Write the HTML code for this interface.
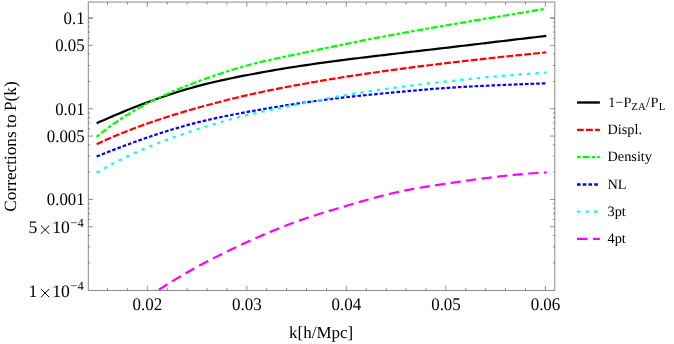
<!DOCTYPE html>
<html><head><meta charset="utf-8"><title>plot</title>
<style>html,body{margin:0;padding:0;background:#fff;}body{width:674px;height:344px;overflow:hidden;font-family:"Liberation Serif",serif;}svg{display:block}</style>
</head><body>
<svg width="674" height="344" viewBox="0 0 674 344">
<rect width="674" height="344" fill="#fff"/>
<defs><filter id="bl" x="-5%" y="-5%" width="110%" height="110%" color-interpolation-filters="sRGB"><feGaussianBlur stdDeviation="0.35"/></filter><clipPath id="c"><rect x="88.3" y="2.05" width="466.49999999999994" height="288.4"/></clipPath></defs>
<g fill="none" stroke-width="2.2" clip-path="url(#c)">
<path d="M96.60,123.27 L100.38,121.58 L104.16,119.91 L107.94,118.26 L111.72,116.63 L115.49,115.02 L119.27,113.43 L123.05,111.87 L126.83,110.32 L130.61,108.80 L134.39,107.29 L138.17,105.82 L141.95,104.36 L145.73,102.94 L149.51,101.53 L153.28,100.16 L157.06,98.81 L160.84,97.48 L164.62,96.19 L168.40,94.92 L172.18,93.68 L175.96,92.47 L179.74,91.29 L183.52,90.15 L187.30,89.03 L191.07,87.94 L194.85,86.89 L198.63,85.87 L202.41,84.88 L206.19,83.93 L209.97,83.00 L213.75,82.10 L217.53,81.23 L221.31,80.38 L225.09,79.56 L228.86,78.75 L232.64,77.96 L236.42,77.20 L240.20,76.44 L243.98,75.70 L247.76,74.97 L251.54,74.26 L255.32,73.55 L259.10,72.85 L262.88,72.17 L266.65,71.49 L270.43,70.83 L274.21,70.18 L277.99,69.54 L281.77,68.90 L285.55,68.28 L289.33,67.67 L293.11,67.07 L296.89,66.49 L300.67,65.91 L304.44,65.34 L308.22,64.79 L312.00,64.24 L315.78,63.70 L319.56,63.17 L323.34,62.65 L327.12,62.13 L330.90,61.63 L334.68,61.13 L338.46,60.63 L342.23,60.14 L346.01,59.66 L349.79,59.18 L353.57,58.71 L357.35,58.24 L361.13,57.78 L364.91,57.32 L368.69,56.86 L372.47,56.40 L376.25,55.95 L380.02,55.50 L383.80,55.06 L387.58,54.61 L391.36,54.17 L395.14,53.72 L398.92,53.28 L402.70,52.84 L406.48,52.40 L410.26,51.96 L414.04,51.52 L417.81,51.08 L421.59,50.64 L425.37,50.20 L429.15,49.76 L432.93,49.32 L436.71,48.88 L440.49,48.43 L444.27,47.99 L448.05,47.55 L451.83,47.10 L455.60,46.66 L459.38,46.21 L463.16,45.76 L466.94,45.31 L470.72,44.87 L474.50,44.42 L478.28,43.97 L482.06,43.52 L485.84,43.06 L489.62,42.61 L493.39,42.16 L497.17,41.71 L500.95,41.26 L504.73,40.81 L508.51,40.36 L512.29,39.91 L516.07,39.46 L519.85,39.01 L523.63,38.56 L527.41,38.11 L531.18,37.67 L534.96,37.22 L538.74,36.77 L542.52,36.33 L546.30,35.88" stroke="#000000"/>
<path d="M96.60,144.18 L100.38,142.42 L104.16,140.70 L107.94,139.02 L111.72,137.38 L115.49,135.77 L119.27,134.20 L123.05,132.66 L126.83,131.15 L130.61,129.68 L134.39,128.24 L138.17,126.83 L141.95,125.45 L145.73,124.10 L149.51,122.77 L153.28,121.47 L157.06,120.20 L160.84,118.95 L164.62,117.72 L168.40,116.51 L172.18,115.33 L175.96,114.17 L179.74,113.02 L183.52,111.90 L187.30,110.79 L191.07,109.70 L194.85,108.62 L198.63,107.55 L202.41,106.50 L206.19,105.47 L209.97,104.44 L213.75,103.44 L217.53,102.44 L221.31,101.46 L225.09,100.50 L228.86,99.55 L232.64,98.62 L236.42,97.70 L240.20,96.80 L243.98,95.92 L247.76,95.05 L251.54,94.20 L255.32,93.37 L259.10,92.55 L262.88,91.74 L266.65,90.95 L270.43,90.18 L274.21,89.42 L277.99,88.67 L281.77,87.93 L285.55,87.20 L289.33,86.49 L293.11,85.78 L296.89,85.08 L300.67,84.40 L304.44,83.72 L308.22,83.05 L312.00,82.38 L315.78,81.73 L319.56,81.08 L323.34,80.45 L327.12,79.82 L330.90,79.19 L334.68,78.58 L338.46,77.97 L342.23,77.37 L346.01,76.78 L349.79,76.19 L353.57,75.61 L357.35,75.04 L361.13,74.47 L364.91,73.91 L368.69,73.36 L372.47,72.81 L376.25,72.27 L380.02,71.73 L383.80,71.20 L387.58,70.68 L391.36,70.16 L395.14,69.64 L398.92,69.13 L402.70,68.63 L406.48,68.13 L410.26,67.64 L414.04,67.15 L417.81,66.66 L421.59,66.18 L425.37,65.71 L429.15,65.24 L432.93,64.77 L436.71,64.31 L440.49,63.85 L444.27,63.39 L448.05,62.95 L451.83,62.50 L455.60,62.06 L459.38,61.62 L463.16,61.19 L466.94,60.75 L470.72,60.33 L474.50,59.90 L478.28,59.48 L482.06,59.07 L485.84,58.65 L489.62,58.24 L493.39,57.84 L497.17,57.43 L500.95,57.03 L504.73,56.63 L508.51,56.24 L512.29,55.84 L516.07,55.45 L519.85,55.06 L523.63,54.68 L527.41,54.29 L531.18,53.91 L534.96,53.53 L538.74,53.15 L542.52,52.78 L546.30,52.40" stroke="#ff0000" stroke-dasharray="6.8 2.155"/>
<path d="M96.60,136.79 L100.36,133.75 L104.13,130.80 L107.89,127.96 L111.66,125.22 L115.42,122.56 L119.19,120.00 L122.95,117.53 L126.72,115.14 L130.48,112.83 L134.25,110.59 L138.01,108.44 L141.78,106.35 L145.54,104.33 L149.31,102.37 L153.07,100.48 L156.84,98.65 L160.60,96.87 L164.36,95.14 L168.13,93.46 L171.89,91.82 L175.66,90.23 L179.42,88.68 L183.19,87.16 L186.95,85.68 L190.72,84.22 L194.48,82.79 L198.25,81.39 L202.01,80.00 L205.78,78.64 L209.54,77.30 L213.31,75.98 L217.07,74.69 L220.84,73.43 L224.60,72.20 L228.36,71.00 L232.13,69.82 L235.89,68.68 L239.66,67.58 L243.42,66.51 L247.19,65.48 L250.95,64.48 L254.72,63.52 L258.48,62.59 L262.25,61.69 L266.01,60.81 L269.78,59.96 L273.54,59.12 L277.31,58.30 L281.07,57.50 L284.84,56.70 L288.60,55.91 L292.36,55.13 L296.13,54.34 L299.89,53.55 L303.66,52.76 L307.42,51.97 L311.19,51.17 L314.95,50.38 L318.72,49.58 L322.48,48.79 L326.25,48.00 L330.01,47.21 L333.78,46.42 L337.54,45.64 L341.31,44.86 L345.07,44.09 L348.84,43.33 L352.60,42.57 L356.36,41.81 L360.13,41.07 L363.89,40.33 L367.66,39.59 L371.42,38.87 L375.19,38.14 L378.95,37.42 L382.72,36.71 L386.48,36.00 L390.25,35.30 L394.01,34.60 L397.78,33.91 L401.54,33.22 L405.31,32.54 L409.07,31.86 L412.84,31.18 L416.60,30.51 L420.36,29.84 L424.13,29.17 L427.89,28.51 L431.66,27.86 L435.42,27.20 L439.19,26.55 L442.95,25.90 L446.72,25.26 L450.48,24.62 L454.25,23.98 L458.01,23.35 L461.78,22.71 L465.54,22.08 L469.31,21.46 L473.07,20.83 L476.84,20.20 L480.60,19.58 L484.36,18.96 L488.13,18.33 L491.89,17.71 L495.66,17.09 L499.42,16.47 L503.19,15.85 L506.95,15.22 L510.72,14.60 L514.48,13.98 L518.25,13.35 L522.01,12.72 L525.78,12.10 L529.54,11.47 L533.31,10.83 L537.07,10.20 L540.84,9.56 L544.60,8.92" stroke="#00ff00" stroke-dasharray="3.6 2.15 6.7 2.12"/>
<path d="M96.60,156.54 L100.38,155.03 L104.16,153.53 L107.94,152.05 L111.72,150.58 L115.49,149.12 L119.27,147.68 L123.05,146.26 L126.83,144.85 L130.61,143.46 L134.39,142.08 L138.17,140.73 L141.95,139.39 L145.73,138.08 L149.51,136.78 L153.28,135.51 L157.06,134.26 L160.84,133.04 L164.62,131.83 L168.40,130.65 L172.18,129.50 L175.96,128.37 L179.74,127.27 L183.52,126.20 L187.30,125.15 L191.07,124.14 L194.85,123.15 L198.63,122.19 L202.41,121.26 L206.19,120.37 L209.97,119.49 L213.75,118.65 L217.53,117.82 L221.31,117.02 L225.09,116.24 L228.86,115.48 L232.64,114.73 L236.42,114.00 L240.20,113.28 L243.98,112.58 L247.76,111.88 L251.54,111.19 L255.32,110.51 L259.10,109.84 L262.88,109.18 L266.65,108.53 L270.43,107.89 L274.21,107.26 L277.99,106.64 L281.77,106.03 L285.55,105.43 L289.33,104.84 L293.11,104.26 L296.89,103.69 L300.67,103.13 L304.44,102.58 L308.22,102.04 L312.00,101.52 L315.78,101.00 L319.56,100.50 L323.34,100.00 L327.12,99.52 L330.90,99.05 L334.68,98.58 L338.46,98.13 L342.23,97.69 L346.01,97.26 L349.79,96.83 L353.57,96.42 L357.35,96.01 L361.13,95.62 L364.91,95.23 L368.69,94.84 L372.47,94.47 L376.25,94.09 L380.02,93.73 L383.80,93.37 L387.58,93.01 L391.36,92.65 L395.14,92.30 L398.92,91.95 L402.70,91.60 L406.48,91.25 L410.26,90.91 L414.04,90.57 L417.81,90.24 L421.59,89.91 L425.37,89.59 L429.15,89.28 L432.93,88.97 L436.71,88.68 L440.49,88.39 L444.27,88.12 L448.05,87.85 L451.83,87.60 L455.60,87.36 L459.38,87.12 L463.16,86.90 L466.94,86.69 L470.72,86.48 L474.50,86.28 L478.28,86.09 L482.06,85.91 L485.84,85.73 L489.62,85.56 L493.39,85.40 L497.17,85.23 L500.95,85.07 L504.73,84.92 L508.51,84.77 L512.29,84.62 L516.07,84.47 L519.85,84.32 L523.63,84.17 L527.41,84.02 L531.18,83.87 L534.96,83.72 L538.74,83.57 L542.52,83.42 L546.30,83.26" stroke="#0000ff" stroke-dasharray="3.6 2.0"/>
<path d="M96.60,172.76 L100.38,170.54 L104.16,168.39 L107.94,166.29 L111.72,164.25 L115.49,162.26 L119.27,160.33 L123.05,158.44 L126.83,156.61 L130.61,154.83 L134.39,153.09 L138.17,151.39 L141.95,149.74 L145.73,148.13 L149.51,146.55 L153.28,145.02 L157.06,143.52 L160.84,142.05 L164.62,140.62 L168.40,139.22 L172.18,137.85 L175.96,136.50 L179.74,135.18 L183.52,133.88 L187.30,132.61 L191.07,131.36 L194.85,130.12 L198.63,128.90 L202.41,127.70 L206.19,126.52 L209.97,125.36 L213.75,124.21 L217.53,123.08 L221.31,121.98 L225.09,120.90 L228.86,119.84 L232.64,118.81 L236.42,117.80 L240.20,116.82 L243.98,115.87 L247.76,114.94 L251.54,114.04 L255.32,113.17 L259.10,112.33 L262.88,111.50 L266.65,110.70 L270.43,109.90 L274.21,109.13 L277.99,108.36 L281.77,107.60 L285.55,106.84 L289.33,106.09 L293.11,105.34 L296.89,104.58 L300.67,103.82 L304.44,103.06 L308.22,102.29 L312.00,101.53 L315.78,100.77 L319.56,100.01 L323.34,99.26 L327.12,98.51 L330.90,97.78 L334.68,97.06 L338.46,96.35 L342.23,95.66 L346.01,94.99 L349.79,94.33 L353.57,93.69 L357.35,93.08 L361.13,92.47 L364.91,91.89 L368.69,91.32 L372.47,90.76 L376.25,90.21 L380.02,89.68 L383.80,89.16 L387.58,88.64 L391.36,88.14 L395.14,87.64 L398.92,87.15 L402.70,86.66 L406.48,86.18 L410.26,85.70 L414.04,85.23 L417.81,84.77 L421.59,84.31 L425.37,83.86 L429.15,83.41 L432.93,82.97 L436.71,82.54 L440.49,82.11 L444.27,81.68 L448.05,81.26 L451.83,80.85 L455.60,80.44 L459.38,80.04 L463.16,79.65 L466.94,79.26 L470.72,78.87 L474.50,78.50 L478.28,78.12 L482.06,77.76 L485.84,77.40 L489.62,77.05 L493.39,76.70 L497.17,76.36 L500.95,76.02 L504.73,75.70 L508.51,75.38 L512.29,75.06 L516.07,74.75 L519.85,74.45 L523.63,74.16 L527.41,73.87 L531.18,73.59 L534.96,73.31 L538.74,73.05 L542.52,72.79 L546.30,72.53" stroke="#00ffff" stroke-dasharray="3.3 5.095"/>
<path d="M150.00,295.50 L153.33,293.31 L156.67,291.13 L160.00,288.98 L163.33,286.86 L166.67,284.76 L170.00,282.68 L173.34,280.64 L176.67,278.61 L180.00,276.62 L183.34,274.66 L186.67,272.72 L190.00,270.82 L193.34,268.94 L196.67,267.10 L200.00,265.29 L203.34,263.51 L206.67,261.75 L210.01,260.03 L213.34,258.33 L216.67,256.64 L220.01,254.98 L223.34,253.34 L226.67,251.72 L230.01,250.11 L233.34,248.51 L236.67,246.93 L240.01,245.37 L243.34,243.83 L246.67,242.29 L250.01,240.78 L253.34,239.28 L256.68,237.79 L260.01,236.33 L263.34,234.88 L266.68,233.45 L270.01,232.03 L273.34,230.64 L276.68,229.27 L280.01,227.92 L283.34,226.59 L286.68,225.29 L290.01,224.01 L293.35,222.76 L296.68,221.54 L300.01,220.35 L303.35,219.19 L306.68,218.06 L310.01,216.94 L313.35,215.86 L316.68,214.79 L320.01,213.74 L323.35,212.70 L326.68,211.68 L330.02,210.67 L333.35,209.68 L336.68,208.69 L340.02,207.70 L343.35,206.72 L346.68,205.75 L350.02,204.77 L353.35,203.80 L356.68,202.83 L360.02,201.86 L363.35,200.91 L366.68,199.96 L370.02,199.03 L373.35,198.12 L376.69,197.22 L380.02,196.34 L383.35,195.48 L386.69,194.64 L390.02,193.83 L393.35,193.05 L396.69,192.29 L400.02,191.57 L403.35,190.87 L406.69,190.20 L410.02,189.56 L413.36,188.94 L416.69,188.34 L420.02,187.76 L423.36,187.20 L426.69,186.65 L430.02,186.12 L433.36,185.59 L436.69,185.08 L440.02,184.58 L443.36,184.08 L446.69,183.58 L450.03,183.09 L453.36,182.60 L456.69,182.11 L460.03,181.63 L463.36,181.16 L466.69,180.68 L470.03,180.22 L473.36,179.76 L476.69,179.31 L480.03,178.86 L483.36,178.42 L486.69,178.00 L490.03,177.58 L493.36,177.17 L496.70,176.77 L500.03,176.38 L503.36,176.01 L506.70,175.64 L510.03,175.29 L513.36,174.95 L516.70,174.63 L520.03,174.32 L523.36,174.03 L526.70,173.75 L530.03,173.48 L533.37,173.24 L536.70,173.01 L540.03,172.80 L543.37,172.60 L546.70,172.43" stroke="#ff00ff" stroke-dasharray="10.2 5.45" stroke-dashoffset="5.1"/>
</g>
<g stroke="#8a8a8a" stroke-width="1" fill="none" shape-rendering="auto">
<rect x="88.3" y="2.05" width="466.49999999999994" height="288.4"/>
<path d="M107.49,290.45 v-2.6 M107.49,2.05 v2.6 M127.40,290.45 v-2.6 M127.40,2.05 v2.6 M147.30,290.45 v-4.6 M147.30,2.05 v4.6 M167.20,290.45 v-2.6 M167.20,2.05 v2.6 M187.11,290.45 v-2.6 M187.11,2.05 v2.6 M207.01,290.45 v-2.6 M207.01,2.05 v2.6 M226.92,290.45 v-2.6 M226.92,2.05 v2.6 M246.82,290.45 v-4.6 M246.82,2.05 v4.6 M266.72,290.45 v-2.6 M266.72,2.05 v2.6 M286.63,290.45 v-2.6 M286.63,2.05 v2.6 M306.53,290.45 v-2.6 M306.53,2.05 v2.6 M326.44,290.45 v-2.6 M326.44,2.05 v2.6 M346.34,290.45 v-4.6 M346.34,2.05 v4.6 M366.24,290.45 v-2.6 M366.24,2.05 v2.6 M386.15,290.45 v-2.6 M386.15,2.05 v2.6 M406.05,290.45 v-2.6 M406.05,2.05 v2.6 M425.96,290.45 v-2.6 M425.96,2.05 v2.6 M445.86,290.45 v-4.6 M445.86,2.05 v4.6 M465.76,290.45 v-2.6 M465.76,2.05 v2.6 M485.67,290.45 v-2.6 M485.67,2.05 v2.6 M505.57,290.45 v-2.6 M505.57,2.05 v2.6 M525.48,290.45 v-2.6 M525.48,2.05 v2.6 M545.38,290.45 v-4.6 M545.38,2.05 v4.6 M88.3,262.85 h1.8 M554.8,262.85 h-1.8 M88.3,246.88 h1.8 M554.8,246.88 h-1.8 M88.3,235.54 h1.8 M554.8,235.54 h-1.8 M88.3,226.75 h4.7 M554.8,226.75 h-4.7 M88.3,219.57 h1.8 M554.8,219.57 h-1.8 M88.3,213.50 h1.8 M554.8,213.50 h-1.8 M88.3,208.24 h1.8 M554.8,208.24 h-1.8 M88.3,203.60 h1.8 M554.8,203.60 h-1.8 M88.3,199.45 h4.7 M554.8,199.45 h-4.7 M88.3,172.15 h1.8 M554.8,172.15 h-1.8 M88.3,156.18 h1.8 M554.8,156.18 h-1.8 M88.3,144.84 h1.8 M554.8,144.84 h-1.8 M88.3,136.05 h4.7 M554.8,136.05 h-4.7 M88.3,128.87 h1.8 M554.8,128.87 h-1.8 M88.3,122.80 h1.8 M554.8,122.80 h-1.8 M88.3,117.54 h1.8 M554.8,117.54 h-1.8 M88.3,112.90 h1.8 M554.8,112.90 h-1.8 M88.3,108.75 h4.7 M554.8,108.75 h-4.7 M88.3,81.45 h1.8 M554.8,81.45 h-1.8 M88.3,65.48 h1.8 M554.8,65.48 h-1.8 M88.3,54.14 h1.8 M554.8,54.14 h-1.8 M88.3,45.35 h4.7 M554.8,45.35 h-4.7 M88.3,38.17 h1.8 M554.8,38.17 h-1.8 M88.3,32.10 h1.8 M554.8,32.10 h-1.8 M88.3,26.84 h1.8 M554.8,26.84 h-1.8 M88.3,22.20 h1.8 M554.8,22.20 h-1.8 M88.3,18.05 h4.7 M554.8,18.05 h-4.7 M88.3,18.05 h4.5 M554.8,18.05 h-4.5" stroke="#686868" stroke-width="0.75"/>
</g>
<g style="font-family:'Liberation Serif',serif" fill="#000" text-rendering="geometricPrecision" filter="url(#bl)">
<text transform="translate(147.4,309.5) scale(0.955,1)" font-size="17.8" text-anchor="middle">0.02</text>
<text transform="translate(246.9,309.5) scale(0.955,1)" font-size="17.8" text-anchor="middle">0.03</text>
<text transform="translate(346.4,309.5) scale(0.955,1)" font-size="17.8" text-anchor="middle">0.04</text>
<text transform="translate(446.0,309.5) scale(0.955,1)" font-size="17.8" text-anchor="middle">0.05</text>
<text transform="translate(545.5,309.5) scale(0.955,1)" font-size="17.8" text-anchor="middle">0.06</text>
<text transform="translate(84.6,24.0) scale(0.945,1)" font-size="17.8" text-anchor="end">0.1</text>
<text transform="translate(84.6,51.4) scale(0.945,1)" font-size="17.8" text-anchor="end">0.05</text>
<text transform="translate(84.6,114.7) scale(0.945,1)" font-size="17.8" text-anchor="end">0.01</text>
<text transform="translate(84.6,142.1) scale(0.945,1)" font-size="17.8" text-anchor="end">0.005</text>
<text transform="translate(84.6,205.4) scale(0.945,1)" font-size="17.8" text-anchor="end">0.001</text>
<text x="28.4" y="233.40" font-size="17.6">5</text>
<text x="52.3" y="233.40" font-size="17.6">10</text>
<text x="70.3" y="226.50" font-size="12.6">−4</text>
<path d="M40.90,225.50 L49.30,233.90 M40.90,233.90 L49.30,225.50" stroke="#000" stroke-width="1" fill="none"/>
<text x="28.4" y="296.80" font-size="17.6">1</text>
<text x="52.3" y="296.80" font-size="17.6">10</text>
<text x="70.3" y="289.90" font-size="12.6">−4</text>
<path d="M40.90,288.90 L49.30,297.30 M40.90,297.30 L49.30,288.90" stroke="#000" stroke-width="1" fill="none"/>
<text x="321.2" y="338.0" font-size="17.0" text-anchor="middle">k[h/Mpc]</text>
<text transform="translate(16.0,146.5) rotate(-90)" font-size="17.2" word-spacing="-0.75" text-anchor="middle">Corrections to P(k)</text>
<path d="M577,102.5 H599.9" stroke="#000000" stroke-width="2.35" fill="none"/>
<path d="M577,129.9 H599.9" stroke="#ff0000" stroke-width="2.35" fill="none" stroke-dasharray="6.8 2.2"/>
<text x="607.5" y="134.1" font-size="14.3">Displ.</text>
<path d="M577,157.1 H599.9" stroke="#00ff00" stroke-width="2.35" fill="none" stroke-dasharray="3.7 2.05 6.8 2.1 3.4 2.1 6.8 2.1"/>
<text x="607.5" y="161.3" font-size="14.3">Density</text>
<path d="M577,184.5 H599.9" stroke="#0000ff" stroke-width="2.35" fill="none" stroke-dasharray="3.6 2.15"/>
<text x="607.5" y="188.7" font-size="14.3">NL</text>
<path d="M577,211.6 H599.9" stroke="#00ffff" stroke-width="2.35" fill="none" stroke-dasharray="3.3 5.15"/>
<text x="607.5" y="215.8" font-size="14.3">3pt</text>
<path d="M577,238.8 H599.9" stroke="#ff00ff" stroke-width="2.35" fill="none" stroke-dasharray="10.3 5.6"/>
<text x="607.5" y="243.0" font-size="14.3">4pt</text>
<text x="608.2" y="106.7" font-size="14.3">1−P<tspan font-size="10.8" dy="2.8">ZA</tspan><tspan dy="-2.8" dx="0.3">/</tspan><tspan dx="0.4">P</tspan><tspan font-size="10.8" dy="2.8" dx="0.3">L</tspan></text>
</g>
</svg>
</body></html>
